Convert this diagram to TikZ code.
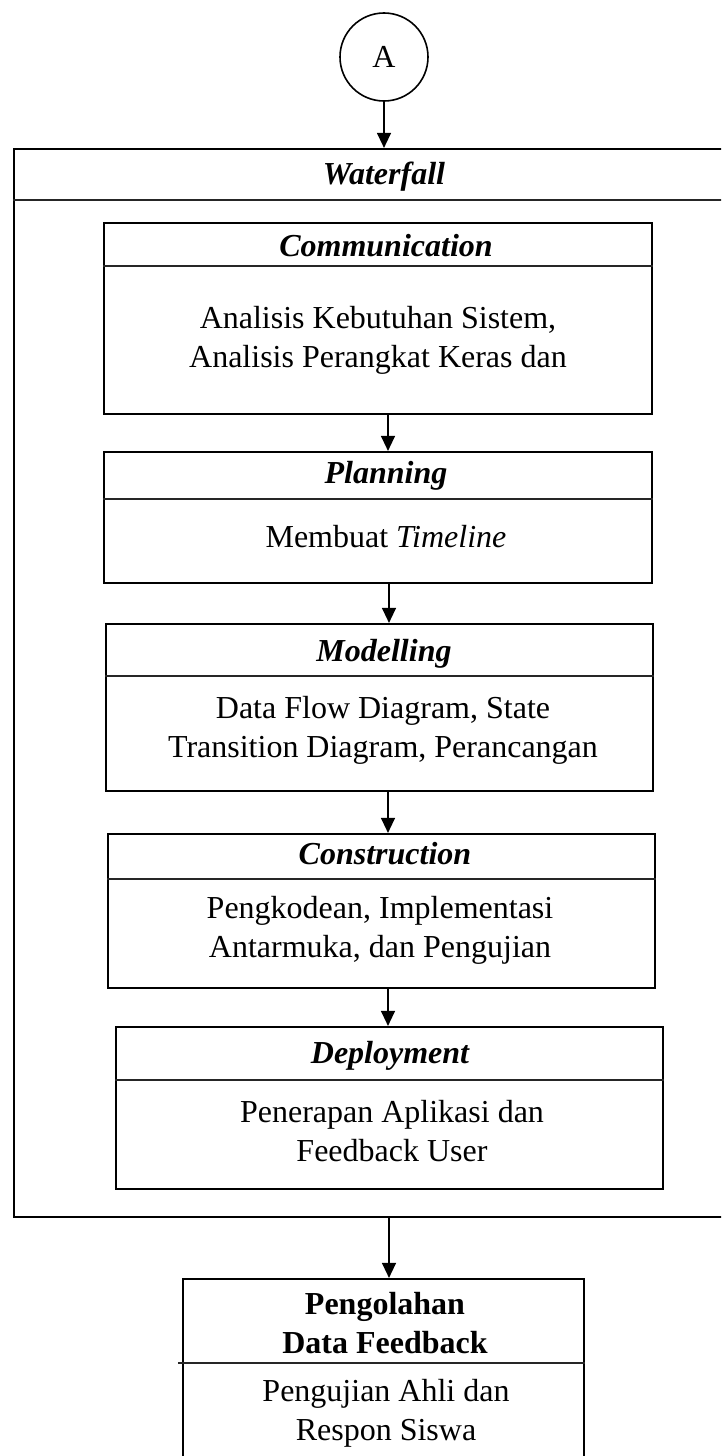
\documentclass[tikz,border=0pt]{standalone}
\usepackage{fontspec}
\setmainfont{Liberation Serif}
\usetikzlibrary{arrows.meta}

\begin{document}
\begin{tikzpicture}[x=1pt,y=-1pt,
  every node/.style={font=\fontsize{32}{39}\selectfont},
  frame/.style={draw=black, line width=2.2pt, rectangle, inner sep=0pt},
  divline/.style={draw=black!85, line width=1.3pt},
  flow/.style={draw=black, line width=1.3pt, -{Triangle[length=15pt,width=14pt]}},
  title/.style={anchor=base, inner sep=0pt, font=\fontsize{32}{39}\selectfont\bfseries\itshape},
  body/.style={anchor=base, inner sep=0pt, align=center}
]
\path[use as bounding box] (0,0) rectangle (721,1456);
\begin{scope}
\clip (0,0) rectangle (721,1456);

% connector A
\node[draw=black, line width=1.6pt, circle, minimum size=88pt, inner sep=0pt] (cA) at (384,57) {A};

% outer Waterfall frame
\node[frame, minimum width=756pt, minimum height=1068pt] (wf) at (392,683) {};
\draw[divline] ([yshift=-52pt]wf.north west) -- ([yshift=-52pt]wf.north east);
\node[title] (wft) at (384,184) {Waterfall};

% Communication (multi-line nodes sit on the baseline of their last line)
\node[frame, minimum width=548pt, minimum height=191pt] (comm) at (378,318.5) {};
\draw[divline] ([yshift=-44pt]comm.north west) -- ([yshift=-44pt]comm.north east);
\node[title] (commt) at (386,256) {Communication};
\node[body] (commb) at (378,367) {Analisis Kebutuhan Sistem,\\Analisis Perangkat Keras dan};

% Planning
\node[frame, minimum width=548pt, minimum height=131pt] (plan) at (378,517.5) {};
\draw[divline] ([yshift=-48pt]plan.north west) -- ([yshift=-48pt]plan.north east);
\node[title] (plant) at (386,483) {Planning};
\node[body] (planb) at (386,547) {Membuat \textit{Timeline}};

% Modelling
\node[frame, minimum width=547pt, minimum height=167pt] (model) at (379.5,707.5) {};
\draw[divline] ([yshift=-53pt]model.north west) -- ([yshift=-53pt]model.north east);
\node[title] (modelt) at (384,661) {Modelling};
\node[body] (modelb) at (383,757) {Data Flow Diagram, State\\Transition Diagram, Perancangan};

% Construction
\node[frame, minimum width=547pt, minimum height=154pt] (constr) at (381.5,911) {};
\draw[divline] ([yshift=-46pt]constr.north west) -- ([yshift=-46pt]constr.north east);
\node[title] (constrt) at (385,864) {Construction};
\node[body] (constrb) at (380,957) {Pengkodean, Implementasi\\Antarmuka, dan Pengujian};

% Deployment
\node[frame, minimum width=547pt, minimum height=162pt] (deploy) at (389.5,1108) {};
\draw[divline] ([yshift=-54pt]deploy.north west) -- ([yshift=-54pt]deploy.north east);
\node[title] (deployt) at (390,1063) {Deployment};
\node[body] (deployb) at (392,1161) {Penerapan Aplikasi dan\\Feedback User};

% Pengolahan Data Feedback
\node[frame, minimum width=401pt, minimum height=241pt] (olah) at (383.5,1399.5) {};
\draw[divline] ([xshift=-4pt,yshift=-85pt]olah.north west) -- ([yshift=-85pt]olah.north east);
\node[body, font=\fontsize{32}{39}\selectfont\bfseries] (olaht) at (385,1353) {Pengolahan\\Data Feedback};
\node[body] (olahb) at (386,1440) {Pengujian Ahli dan\\Respon Siswa};

% connectors
\draw[flow] (cA.south) -- (cA.south |- wf.north);
\draw[flow] ([xshift=10pt]comm.south) -- ([xshift=10pt]comm.south |- plan.north);
\draw[flow] ([xshift=11pt]plan.south) -- ([xshift=11pt]plan.south |- model.north);
\draw[flow] ([xshift=8.5pt]model.south) -- ([xshift=8.5pt]model.south |- constr.north);
\draw[flow] ([xshift=6.5pt]constr.south) -- ([xshift=6.5pt]constr.south |- deploy.north);
\draw[flow] (389,1217) -- (389,1217 |- olah.north);
\end{scope}
\end{tikzpicture}
\end{document}
